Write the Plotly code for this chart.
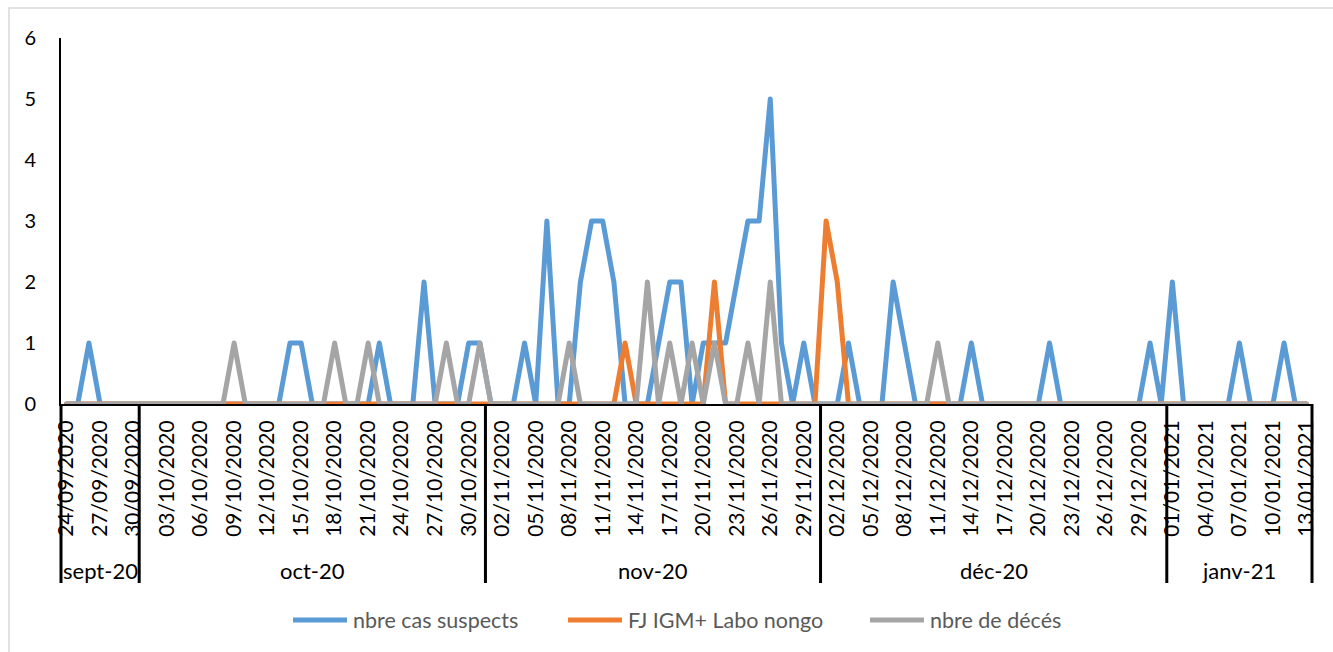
import pandas as pd
import plotly.graph_objects as go

# Daily dates covered by the surveillance line list
dates = pd.date_range("2020-09-24", "2021-01-13", freq="D")
date_labels = [d.strftime("%d/%m/%Y") for d in dates]

# Month groups (label, number of days shown)
months = ["sept-20", "oct-20", "nov-20", "déc-20", "janv-21"]
month_days = [7, 31, 30, 31, 13]

# nbre cas suspects, by month
cas_sep = [0, 0, 1, 0, 0, 0, 0]
cas_oct = [0, 0, 0, 0, 0, 0, 0, 0, 0, 0,
           0, 0, 0, 1, 1, 0, 0, 0, 0, 0,
           0, 1, 0, 0, 0, 2, 0, 0, 0, 1,
           1]
cas_nov = [0, 0, 0, 1, 0, 3, 0, 0, 2, 3,
           3, 2, 0, 0, 0, 1, 2, 2, 0, 1,
           1, 1, 2, 3, 3, 5, 1, 0, 1, 0]
cas_dec = [0, 0, 1, 0, 0, 0, 2, 1, 0, 0,
           0, 0, 0, 1, 0, 0, 0, 0, 0, 0,
           1, 0, 0, 0, 0, 0, 0, 0, 0, 1,
           0]
cas_jan = [2, 0, 0, 0, 0, 0, 1, 0, 0, 0, 1, 0, 0]

# FJ IGM+ Labo nongo, by month
igm_sep = [0] * 7
igm_oct = [0] * 31
igm_nov = [0, 0, 0, 0, 0, 0, 0, 0, 0, 0,
           0, 0, 1, 0, 0, 0, 0, 0, 0, 0,
           2, 0, 0, 0, 0, 0, 0, 0, 0, 0]
igm_dec = [3, 2, 0, 0, 0, 0, 0, 0, 0, 0,
           0, 0, 0, 0, 0, 0, 0, 0, 0, 0,
           0, 0, 0, 0, 0, 0, 0, 0, 0, 0,
           0]
igm_jan = [0] * 13

# nbre de décés, by month
dc_sep = [0] * 7
dc_oct = [0, 0, 0, 0, 0, 0, 0, 0, 1, 0,
          0, 0, 0, 0, 0, 0, 0, 1, 0, 0,
          1, 0, 0, 0, 0, 0, 0, 1, 0, 0,
          1]
dc_nov = [0, 0, 0, 0, 0, 0, 0, 1, 0, 0,
          0, 0, 0, 0, 2, 0, 1, 0, 1, 0,
          1, 0, 0, 1, 0, 2, 0, 0, 0, 0]
dc_dec = [0, 0, 0, 0, 0, 0, 0, 0, 0, 0,
          1, 0, 0, 0, 0, 0, 0, 0, 0, 0,
          0, 0, 0, 0, 0, 0, 0, 0, 0, 0,
          0]
dc_jan = [0] * 13

series_names = ["nbre cas suspects", "FJ IGM+ Labo nongo", "nbre de décés"]
series_colors = ["#5B9BD5", "#ED7D31", "#A5A5A5"]
series_values = [
    cas_sep + cas_oct + cas_nov + cas_dec + cas_jan,
    igm_sep + igm_oct + igm_nov + igm_dec + igm_jan,
    dc_sep + dc_oct + dc_nov + dc_dec + dc_jan,
]

FONT = "Lato, Carlito, Calibri, sans-serif"
LINE_W = 5
W, H = 1333, 652
L, R, T, B = 61, 21, 38, 248
PW, PH = W - L - R, H - T - B
n = len(dates)
idx = list(range(n))


def px_x(p):
    return (p - L) / PW


def px_y(p):
    return (H - B - p) / PH


fig = go.Figure()
for name, color, vals in zip(series_names, series_colors, series_values):
    fig.add_trace(go.Scatter(
        x=idx, y=vals, mode="lines", name=name,
        line=dict(color=color, width=LINE_W),
        hoverinfo="x+y", showlegend=False,
    ))

shapes = []
annotations = []

# Month separators below the axis and month names
bounds = [-0.5]
for d in month_days:
    bounds.append(bounds[-1] + d)
for b in bounds:
    xp = (b + 0.5) / n
    shapes.append(dict(type="line", xref="paper", yref="paper",
                       x0=xp, x1=xp, y0=0, y1=px_y(583),
                       line=dict(color="black", width=3)))
for i, m in enumerate(months):
    annotations.append(dict(
        x=(bounds[i] + bounds[i + 1]) / 2, xref="x",
        y=px_y(570), yref="paper", text=m, showarrow=False,
        xanchor="center", yanchor="middle",
        font=dict(family=FONT, size=22, color="black")))

# Legend row
legend_x = [293, 568, 870]
for name, color, lx in zip(series_names, series_colors, legend_x):
    shapes.append(dict(type="line", xref="paper", yref="paper",
                       x0=px_x(lx), x1=px_x(lx + 54),
                       y0=px_y(620), y1=px_y(620),
                       line=dict(color=color, width=LINE_W)))
    annotations.append(dict(
        x=px_x(lx + 58), xref="paper", y=px_y(620), yref="paper",
        text=name, showarrow=False, xanchor="left", yanchor="middle",
        font=dict(family=FONT, size=21.5, color="#595959")))

# Chart frame
shapes.append(dict(type="rect", xref="paper", yref="paper",
                   x0=px_x(9), x1=px_x(1345), y0=px_y(665), y1=px_y(8),
                   line=dict(color="#D9D9D9", width=1.5), layer="below"))

fig.update_layout(
    width=W, height=H,
    margin=dict(l=L, r=R, t=T, b=B),
    paper_bgcolor="white", plot_bgcolor="white",
    font=dict(family=FONT, size=20, color="black"),
    shapes=shapes, annotations=annotations,
    showlegend=False,
    xaxis=dict(
        range=[-0.5, n - 0.5],
        tickmode="array", tickvals=idx[::3], ticktext=date_labels[::3],
        tickangle=-90, tickfont=dict(family=FONT, size=21, color="black"),
        showgrid=False, zeroline=False, ticks="",
        showline=True, linecolor="black", linewidth=2,
        layer="below traces", ticklabelstandoff=6,
    ),
    yaxis=dict(
        range=[0, 6], tickvals=[0, 1, 2, 3, 4, 5, 6],
        tickfont=dict(family=FONT, size=20, color="black"),
        showgrid=False, zeroline=False, ticks="",
        showline=True, linecolor="black", linewidth=2,
        ticklabelstandoff=19,
    ),
)

# Rounded joins on the series lines
round_joins = """
document.querySelectorAll('.scatterlayer path.js-line').forEach(function (p) {
  p.style.strokeLinejoin = 'round';
  p.style.strokeLinecap = 'round';
});
"""

fig.write_html("out.html", post_script=round_joins)
